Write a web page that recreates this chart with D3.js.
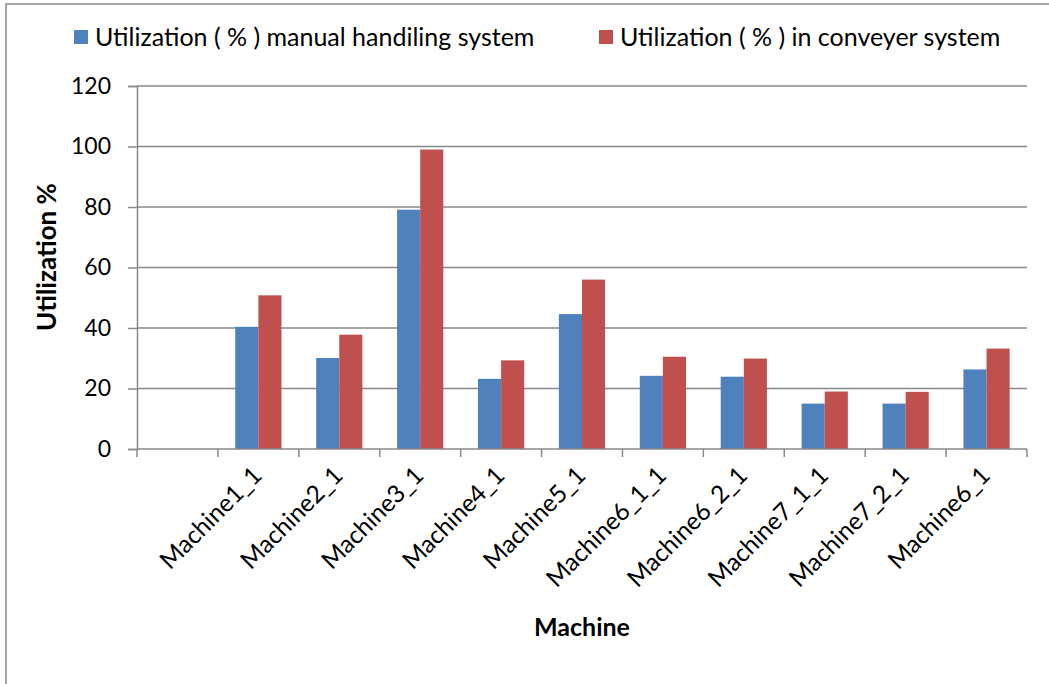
<!DOCTYPE html>
<html>
<head>
<meta charset="utf-8">
<script src="https://cdn.jsdelivr.net/npm/d3@7"></script>
<style>
  html, body { margin: 0; padding: 0; background: #fff; }
  svg { display: block; font-family: Lato, "Open Sans", sans-serif; }
</style>
</head>
<body>
<svg id="chart" width="1049" height="684"></svg>
<script>
const categories = ["", "Machine1_1", "Machine2_1", "Machine3_1", "Machine4_1", "Machine5_1",
  "Machine6_1_1", "Machine6_2_1", "Machine7_1_1", "Machine7_2_1", "Machine6_1"];
const manualValues = [null, 40.4, 30.1, 79.1, 23.2, 44.6, 24.2, 23.9, 15.0, 15.0, 26.3];
const conveyorValues = [null, 50.8, 37.8, 99.0, 29.3, 56.0, 30.5, 29.9, 19.0, 18.9, 33.2];
const seriesNames = ["Utilization ( % ) manual handiling system", "Utilization ( % ) in conveyer system"];
const yTicks = [0, 20, 40, 60, 80, 100, 120];

const colors = ["#4F81BD", "#C0504D"];
const gridColor = "#898989";

const svg = d3.select("#chart");
const W = 1049, H = 684;
const plot = { left: 137, right: 1027, top: 86, bottom: 449 };

// outer border (left & top visible)
svg.append("rect").attr("x", 6).attr("y", 4).attr("width", W + 20).attr("height", H + 20)
  .attr("fill", "none").attr("stroke", gridColor).attr("stroke-width", 1.5);

const x = d3.scaleBand().domain(categories.map((c, i) => i)).range([plot.left, plot.right]).padding(0);
const y = d3.scaleLinear().domain([0, 120]).range([plot.bottom, plot.top]);

// gridlines
svg.append("g").selectAll("line").data(yTicks.filter(t => t > 0)).join("line")
  .attr("x1", plot.left).attr("x2", plot.right)
  .attr("y1", d => y(d)).attr("y2", d => y(d))
  .attr("stroke", gridColor).attr("stroke-width", 1.5);

// bars
const bw = x.bandwidth();
const barW = bw / 3.5;
const series = [manualValues, conveyorValues];
series.forEach((vals, si) => {
  svg.append("g").selectAll("rect")
    .data(vals.map((v, i) => ({ v, i })).filter(d => d.v != null))
    .join("rect")
    .attr("x", d => x(d.i) + 0.75 * barW + si * barW)
    .attr("width", barW)
    .attr("y", d => y(d.v))
    .attr("height", d => y(0) - y(d.v))
    .attr("fill", colors[si]);
});

// y axis
const yAxis = d3.axisLeft(y).tickValues(yTicks).tickSize(9).tickPadding(17);
const gy = svg.append("g").attr("transform", `translate(${plot.left},0)`).call(yAxis);
gy.select(".domain").attr("stroke", gridColor).attr("stroke-width", 1.5);
gy.selectAll(".tick line").attr("stroke", gridColor).attr("stroke-width", 1.5);
gy.selectAll(".tick text").attr("font-size", 23).attr("fill", "#000")
  .attr("font-family", "Lato, sans-serif");

// x axis
const gx = svg.append("g").attr("transform", `translate(0,${plot.bottom})`);
gx.append("line").attr("x1", plot.left).attr("x2", plot.right).attr("stroke", gridColor).attr("stroke-width", 1.5);
const bounds = categories.map((c, i) => x(i)).concat([plot.right]);
gx.selectAll("line.tk").data(bounds).join("line").attr("class", "tk")
  .attr("x1", d => d).attr("x2", d => d).attr("y1", 0).attr("y2", 8)
  .attr("stroke", gridColor).attr("stroke-width", 1.5);
gx.selectAll("text").data(categories.map((c, i) => ({ c, i })).filter(d => d.c)).join("text")
  .attr("transform", d => `translate(${x(d.i) + bw / 2 + 5},${28}) rotate(-45)`)
  .attr("text-anchor", "end")
  .attr("font-size", 24.5)
  .attr("fill", "#000")
  .text(d => d.c);

// axis titles
svg.append("text").attr("x", 582).attr("y", 636).attr("text-anchor", "middle")
  .attr("font-size", 25).attr("font-weight", "bold").text("Machine");
svg.append("text").attr("transform", "translate(56,257) rotate(-90)").attr("text-anchor", "middle")
  .attr("font-size", 26).attr("font-weight", "bold").text("Utilization %");

// legend
const legendX = [74, 599];
seriesNames.forEach((name, i) => {
  svg.append("rect").attr("x", legendX[i]).attr("y", 30).attr("width", 14).attr("height", 14).attr("fill", colors[i]);
  svg.append("text").attr("x", legendX[i] + 21).attr("y", 46).attr("font-size", 25)
    .attr("fill", "#000").text(name);
});
</script>
</body>
</html>
